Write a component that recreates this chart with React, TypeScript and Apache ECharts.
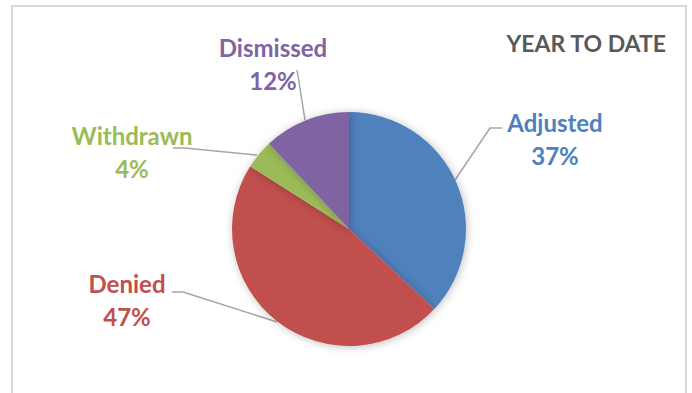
import React, { useEffect, useRef } from "react";
import * as echarts from "echarts";

const categories = ["Adjusted", "Denied", "Withdrawn", "Dismissed"];
const values = [37, 47, 4, 12];
const sliceColors = ["#4F81BD", "#C0504D", "#9BBB59", "#8064A2"];
const chartTitle = "YEAR TO DATE";

// label anchor (center of the two-line label block)
const labelCenters: number[][] = [
  [555, 139],
  [127, 300],
  [132, 152],
  [273, 64],
];
// leader lines: from slice edge to label
const leaderLines: number[][][] = [
  [[455, 180], [490, 128], [502, 128]],
  [[277, 322], [183, 292], [172, 292]],
  [[257, 155], [185, 148], [173, 148]],
  [[305, 120], [299, 82], [297, 70]],
];

const FONT = "Lato, 'Open Sans', sans-serif";

export default function App() {
  const ref = useRef<HTMLDivElement>(null);
  useEffect(() => {
    if (!ref.current) return;
    const chart = echarts.init(ref.current, undefined, { renderer: "svg" });
    chart.setOption({
      animation: false,
      backgroundColor: "#ffffff",
      graphic: [
        {
          type: "rect",
          shape: { x: 12, y: 6, width: 674, height: 400 },
          style: { fill: "none", stroke: "#d9d9d9", lineWidth: 2 },
          silent: true,
          z: 0,
        },
        {
          type: "text",
          x: 666,
          y: 43,
          style: {
            text: chartTitle,
            align: "right",
            verticalAlign: "middle",
            fill: "#595959",
            font: `bold 23px ${FONT}`,
          },
        },
      ],
      series: [
        {
          type: "pie",
          center: [349, 229],
          radius: 117,
          startAngle: 90,
          clockwise: true,
          avoidLabelOverlap: false,
          itemStyle: {
            borderWidth: 0,
            shadowBlur: 8,
            shadowColor: "rgba(0,0,0,0.25)",
            shadowOffsetX: 1,
            shadowOffsetY: 1,
          },
          label: {
            show: true,
            formatter: (p: any) => `${p.name}\n${Math.round(p.percent)}%`,
            fontFamily: FONT,
            fontWeight: "bold",
            fontSize: 24,
            lineHeight: 33,
            align: "center",
          },
          labelLine: {
            show: true,
            lineStyle: { color: "#a6a6a6", width: 1.5 },
          },
          labelLayout: (params: any) => {
            const i = params.dataIndex;
            return {
              x: labelCenters[i][0],
              y: labelCenters[i][1],
              align: "center",
              verticalAlign: "middle",
              labelLinePoints: leaderLines[i],
            };
          },
          data: categories.map((name, i) => ({
            name,
            value: values[i],
            itemStyle: { color: sliceColors[i] },
            label: { color: sliceColors[i] },
          })),
        },
      ],
    });
    return () => chart.dispose();
  }, []);
  return (
    <div
      ref={ref}
      style={{ position: "fixed", left: 0, top: 0, width: 692, height: 393 }}
    />
  );
}
